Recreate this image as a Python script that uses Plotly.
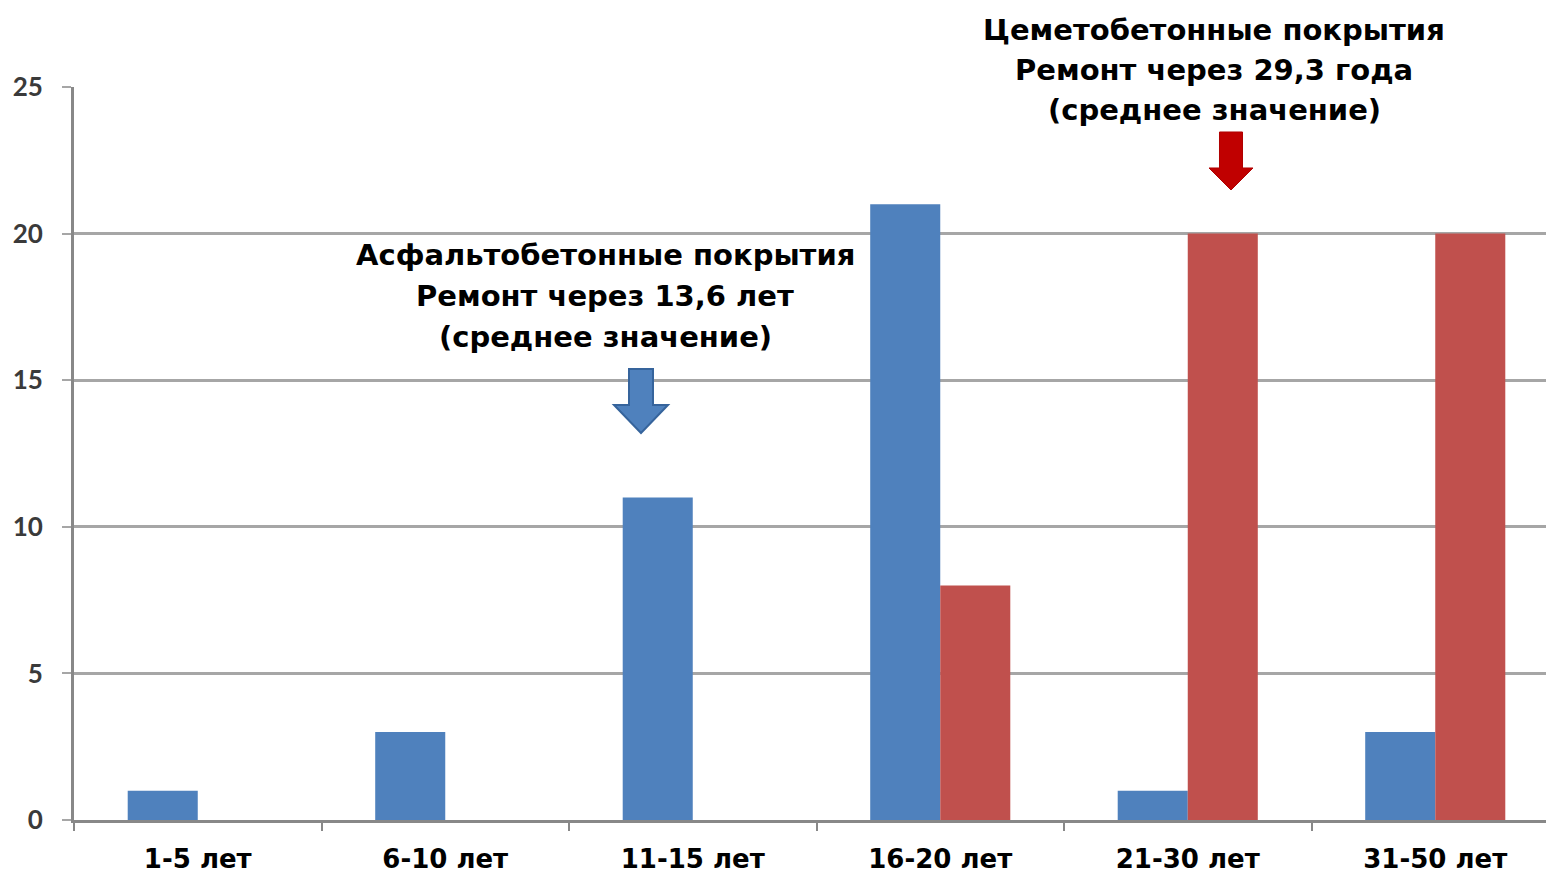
import plotly.graph_objects as go

# Service life before first repair, number of sections per interval
categories = ["1-5 лет", "6-10 лет", "11-15 лет", "16-20 лет", "21-30 лет", "31-50 лет"]
asphalt_counts = [1, 3, 11, 21, 1, 3]
concrete_counts = [0, 0, 0, 8, 20, 20]
y_ticks = [0, 5, 10, 15, 20, 25]

asphalt_note = ["Асфальтобетонные покрытия", "Ремонт через 13,6 лет", "(среднее значение)"]
concrete_note = ["Цеметобетонные покрытия", "Ремонт через 29,3 года", "(среднее значение)"]

BLUE = "#4F81BD"
RED = "#C0504D"
GRID = "#A6A6A6"
AXIS = "#888888"

W, H = 1546, 875
M_L, M_R, M_T, M_B = 74, 0, 87, 55
PW, PH = W - M_L - M_R, H - M_T - M_B


def px(x, y):
    """Page pixel -> paper coordinates of the plot area."""
    return (x - M_L) / PW, (H - M_B - y) / PH


def arrow_path(cx, top, shaft_half, head_half, neck, tip):
    pts = [
        (cx - shaft_half, top), (cx + shaft_half, top), (cx + shaft_half, neck),
        (cx + head_half, neck), (cx, tip), (cx - head_half, neck), (cx - shaft_half, neck),
    ]
    conv = [px(x, y) for x, y in pts]
    return "M " + " L ".join(f"{a:.5f},{b:.5f}" for a, b in conv) + " Z"


fig = go.Figure()
fig.add_trace(go.Bar(x=categories, y=asphalt_counts, marker=dict(color=BLUE, line=dict(width=0)),
                     name="Асфальтобетонные"))
fig.add_trace(go.Bar(x=categories, y=concrete_counts, marker=dict(color=RED, line=dict(width=0)),
                     name="Цементобетонные"))

shapes = [
    # white patch behind the concrete caption where it crosses the top gridline
    dict(type="rect", xref="paper", yref="paper",
         x0=px(1070, 0)[0], x1=px(1390, 0)[0], y0=px(0, 92)[1], y1=px(0, 84)[1],
         fillcolor="white", line=dict(width=0), layer="above"),
    dict(type="path", xref="paper", yref="paper", layer="above",
         path=arrow_path(641, 369, 12, 27, 405, 433),
         fillcolor=BLUE, line=dict(color="#36649C", width=2)),
    dict(type="path", xref="paper", yref="paper", layer="above",
         path=arrow_path(1231, 132, 11.5, 22, 168, 190),
         fillcolor="#C00000", line=dict(color="#B00000", width=1)),
]

annotations = []
for text, ypix in zip(asphalt_note, [255, 296, 337]):
    xp, yp = px(605, ypix)
    annotations.append(dict(x=xp, y=yp, xref="paper", yref="paper", text=text, showarrow=False,
                            xanchor="center", yanchor="middle",
                            font=dict(family="DejaVu Sans", size=29, color="black", weight="bold")))
for text, ypix in zip(concrete_note, [30, 70, 110]):
    xp, yp = px(1214, ypix)
    annotations.append(dict(x=xp, y=yp, xref="paper", yref="paper", text=text, showarrow=False,
                            xanchor="center", yanchor="middle",
                            font=dict(family="DejaVu Sans", size=29, color="black", weight="bold")))

fig.update_layout(
    width=W, height=H, autosize=False,
    margin=dict(l=M_L, r=M_R, t=M_T, b=M_B, pad=0),
    paper_bgcolor="white", plot_bgcolor="white",
    barmode="group", bargap=0.434, bargroupgap=0,
    showlegend=False,
    shapes=shapes, annotations=annotations,
    xaxis=dict(
        type="category", range=[-0.5, -0.5 + PW / 247.5],
        showgrid=False, zeroline=False,
        showline=True, linecolor=AXIS, linewidth=3,
        ticks="outside", tickson="boundaries", ticklen=8, tickwidth=2, tickcolor=AXIS,
        tickfont=dict(family="DejaVu Sans", size=26, color="black", weight="bold"),
        ticklabelstandoff=14,
    ),
    yaxis=dict(
        range=[0, 25], tickvals=y_ticks,
        showgrid=True, gridcolor=GRID, gridwidth=2.5, zeroline=False,
        showline=True, linecolor=AXIS, linewidth=3,
        ticks="outside", ticklen=9, tickwidth=2, tickcolor=GRID,
        tickfont=dict(family="Lato", size=26, color="#3A3A3A", weight="bold"),
        ticklabelstandoff=14,
    ),
)

fig.write_html("out.html")
